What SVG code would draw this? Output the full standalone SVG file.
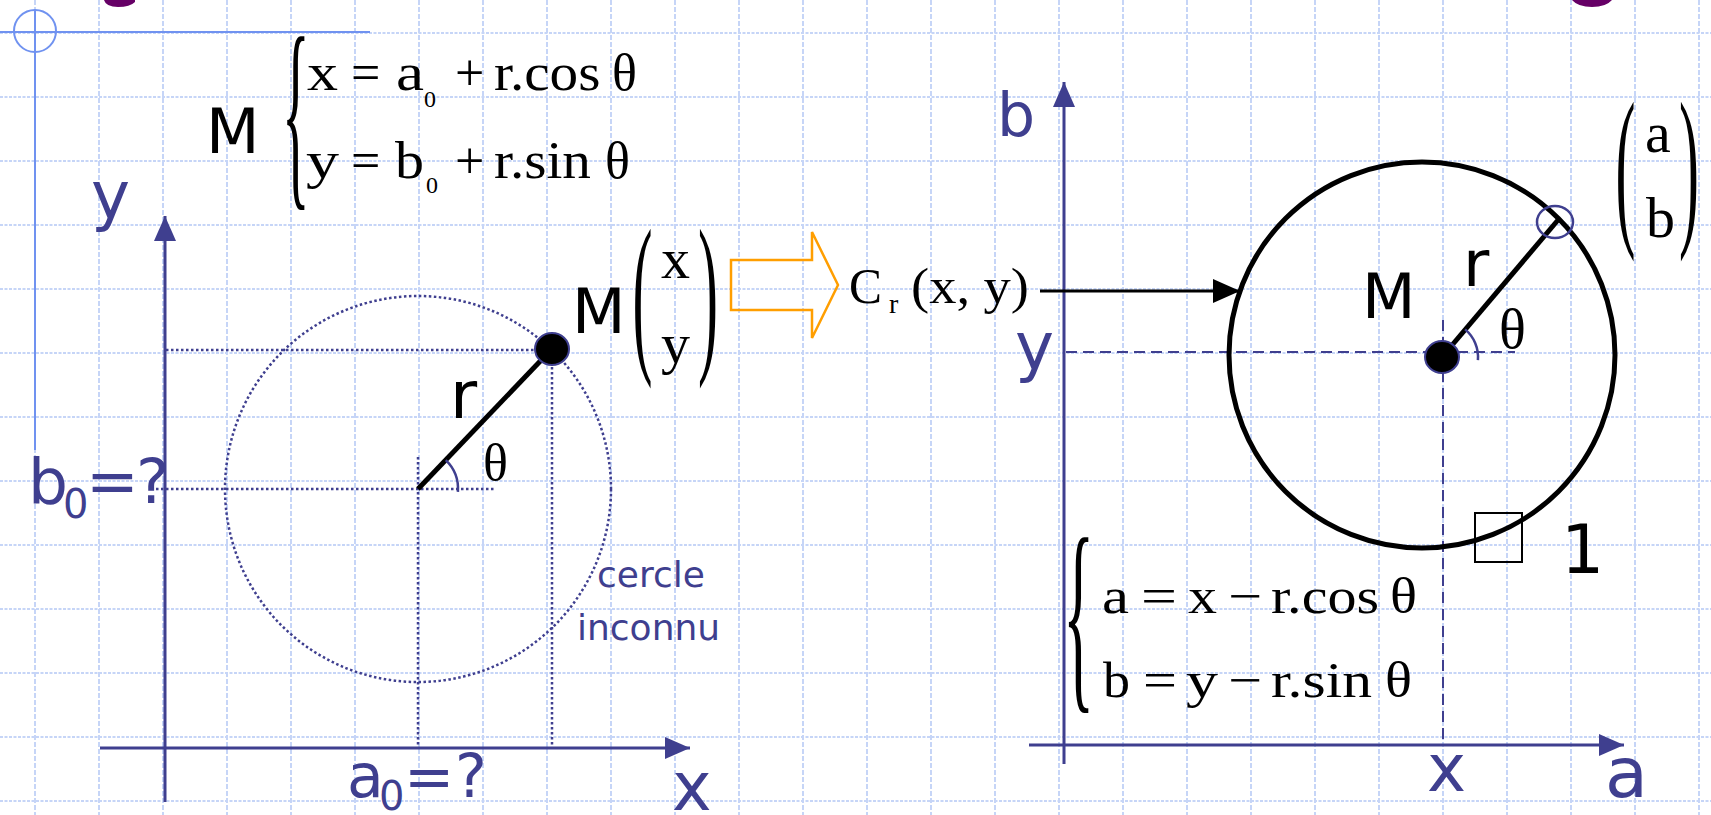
<svg xmlns="http://www.w3.org/2000/svg" width="1711" height="815" viewBox="0 0 1711 815">
<defs>
<style>
.grid{fill:none;stroke:#c6d5f7;stroke-width:2}
.gh{stroke-dasharray:3 1.5}
.gv{stroke-dasharray:5 2}
.ser{font-family:"Liberation Serif","Times New Roman",serif;fill:#000}
.san{font-family:"DejaVu Sans",Verdana,sans-serif}
.blue{fill:#3f3f8f}
.blk{fill:#000}
.axis{stroke:#3f3f8f;stroke-width:3;fill:none}
.dot{stroke:#3f3f8f;stroke-width:2.5;fill:none;stroke-dasharray:2.5 2.5}
.dash{stroke:#3f3f8f;stroke-width:2;fill:none;stroke-dasharray:11 6}
.thick{stroke:#000;stroke-width:5;fill:none}
.arc{stroke:#3f3f8f;stroke-width:2.5;fill:none}
</style>
<marker id="axArrow" markerUnits="userSpaceOnUse" markerWidth="26" markerHeight="22" refX="25" refY="11" orient="auto">
<path d="M0,0 L25,11 L0,22 Z" fill="#3f3f8f"/>
</marker>
<marker id="blkArrow" markerUnits="userSpaceOnUse" markerWidth="28" markerHeight="24" refX="27" refY="12" orient="auto">
<path d="M0,0 L27,12 L0,24 Z" fill="#000"/>
</marker>
</defs>
<rect width="1711" height="815" fill="#fff"/>
<g id="grid">
<path class="grid gh" d="M0,33H1711M0,97H1711M0,161H1711M0,225H1711M0,289H1711M0,353H1711M0,417H1711M0,481H1711M0,545H1711M0,609H1711M0,673H1711M0,737H1711M0,801H1711"/>
<path class="grid gv" d="M35,0V815M99,0V815M163,0V815M227,0V815M291,0V815M355,0V815M419,0V815M483,0V815M547,0V815M611,0V815M675,0V815M739,0V815M803,0V815M867,0V815M931,0V815M995,0V815M1059,0V815M1123,0V815M1187,0V815M1251,0V815M1315,0V815M1379,0V815M1443,0V815M1507,0V815M1571,0V815M1635,0V815M1699,0V815"/>
</g>
<g id="page-decor">
<path d="M0,32H370M35,10V450" stroke="#7092f0" stroke-width="2" fill="none"/>
<circle cx="35" cy="31" r="21" stroke="#7092f0" stroke-width="2" fill="none"/>
<path d="M104,0 Q106,7 118,7 Q130,7 135,2 L135,0 Z" fill="#660066"/>
<path d="M1572,0 Q1578,7 1592,7 Q1606,7 1612,0 Z" fill="#660066"/>
</g>
<g id="connectors">
<line class="axis" x1="165" y1="802" x2="165" y2="216" marker-end="url(#axArrow)"/>
<line class="axis" x1="100" y1="748" x2="690" y2="748" marker-end="url(#axArrow)"/>
<line class="axis" x1="1064" y1="764" x2="1064" y2="82" marker-end="url(#axArrow)"/>
<line class="axis" x1="1029" y1="745" x2="1624" y2="745" marker-end="url(#axArrow)"/>
<path class="dot" d="M166,350H540M156,489H494M418,457V748M552,362V748"/>
<path class="dash" d="M1066,352H1515M1443,320V745"/>
<line x1="1040" y1="291" x2="1240" y2="291" stroke="#000" stroke-width="3" marker-end="url(#blkArrow)"/>
<path d="M731,260 H812 V232 L838,285 L812,338 V310 H731 Z" fill="none" stroke="#ff9e00" stroke-width="2.5"/>
</g>
<g id="left-circle">
<circle class="dot" cx="418" cy="489" r="193"/>
<line class="thick" x1="418" y1="489" x2="548" y2="353"/>
<path class="arc" d="M445.8,460.2 A40,40 0 0 1 457.9,491.8"/>
<ellipse cx="552" cy="349" rx="17" ry="16" fill="#000" stroke="#3f3f8f" stroke-width="2"/>
</g>
<g id="right-circle">
<circle cx="1422" cy="355" r="193" fill="none" stroke="#000" stroke-width="5"/>
<line class="thick" x1="1442" y1="357" x2="1558" y2="220"/>
<path class="arc" d="M1465.1,329.4 A36,36 0 0 1 1477.9,360.1"/>
<ellipse cx="1442" cy="357" rx="17" ry="16" fill="#000" stroke="#3f3f8f" stroke-width="2"/>
<ellipse cx="1555" cy="222" rx="18" ry="16" fill="none" stroke="#3f3f8f" stroke-width="2.5"/>
<rect x="1475" y="513" width="47" height="49" fill="none" stroke="#000" stroke-width="2"/>
</g>
<g id="formula-M">
<text class="san blk" x="206" y="153" font-size="62">M</text>
<text class="ser" font-size="50" transform="translate(282,182) scale(1.15,4.18)">{</text>
<g class="ser" font-size="52">
<text x="307" y="90" textLength="31" lengthAdjust="spacingAndGlyphs">x</text>
<text x="351" y="90">=</text>
<text x="396" y="90" textLength="28" lengthAdjust="spacingAndGlyphs">a</text>
<text x="424" y="107" font-size="24">0</text>
<text x="455" y="90">+</text>
<text transform="translate(494,90) scale(1.1,1)">r.cos</text>
<text x="612" y="90">θ</text>
<text x="306" y="178" textLength="33" lengthAdjust="spacingAndGlyphs">y</text>
<text x="351" y="178">=</text>
<text x="395" y="178" textLength="29" lengthAdjust="spacingAndGlyphs">b</text>
<text x="426" y="193" font-size="24">0</text>
<text x="455" y="178">+</text>
<text transform="translate(494,178) scale(1.1,1)">r.sin</text>
<text x="605" y="178">θ</text>
</g>
</g>
<g id="left-labels">
<text class="san blue" x="91" y="218" font-size="66">y</text>
<text class="san blue" x="672" y="810" font-size="67">x</text>
<text class="san blue" x="28" y="503" font-size="63">b</text>
<text class="san blue" x="63" y="518" font-size="40">0</text>
<text class="san blue" x="86" y="503" font-size="63">=</text>
<text class="san blue" x="136" y="503" font-size="63">?</text>
<text class="san blue" x="347" y="797" font-size="60">a</text>
<text class="san blue" x="379" y="810" font-size="40">0</text>
<text class="san blue" x="404" y="797" font-size="60">=</text>
<text class="san blue" x="455" y="797" font-size="60">?</text>
<text class="san blue" x="597" y="587" font-size="36">cercle</text>
<text class="san blue" x="577" y="640" font-size="36">inconnu</text>
<text class="san blk" x="450" y="418" font-size="66">r</text>
<text class="ser" x="483" y="480" font-size="52">θ</text>
</g>
<g id="point-M">
<text class="san blk" x="572" y="333" font-size="62">M</text>
<text class="ser" font-size="50" transform="translate(632.5,350.8) scale(1.2,3.54)">(</text>
<text class="ser" font-size="50" transform="translate(698,350.8) scale(1.2,3.54)">)</text>
<text class="ser" x="661" y="278" font-size="58">x</text>
<text class="ser" x="661" y="363" font-size="58">y</text>
</g>
<g id="hough-Cr">
<text class="ser" x="849" y="303" font-size="50" textLength="33" lengthAdjust="spacingAndGlyphs">C</text>
<text class="ser" x="889" y="313" font-size="28">r</text>
<text class="ser" x="911" y="303" font-size="50" textLength="118" lengthAdjust="spacingAndGlyphs">(x, y)</text>
</g>
<g id="right-labels">
<text class="san blue" x="997" y="136" font-size="60">b</text>
<text class="san blue" x="1015" y="369" font-size="66">y</text>
<text class="san blue" x="1427" y="791" font-size="66">x</text>
<text class="san blue" x="1605" y="797" font-size="70">a</text>
<text class="san blk" x="1362" y="318" font-size="62">M</text>
<text class="san blk" x="1463" y="286" font-size="64">r</text>
<text class="ser" x="1499" y="348" font-size="56">θ</text>
<text class="san blk" x="1561" y="573" font-size="68">1</text>
</g>
<g id="point-ab">
<text class="ser" font-size="50" transform="translate(1615.5,223.8) scale(1.2,3.51)">(</text>
<text class="ser" font-size="50" transform="translate(1679,223.8) scale(1.2,3.51)">)</text>
<text class="ser" x="1645" y="152" font-size="58">a</text>
<text class="ser" x="1646" y="237" font-size="58">b</text>
</g>
<g id="formula-ab">
<text class="ser" font-size="50" transform="translate(1063,684.5) scale(1.3,4.25)">{</text>
<g class="ser" font-size="50">
<text x="1102" y="613" textLength="27" lengthAdjust="spacingAndGlyphs">a</text>
<text x="1141" y="613" textLength="36" lengthAdjust="spacingAndGlyphs">=</text>
<text x="1188" y="613" textLength="29" lengthAdjust="spacingAndGlyphs">x</text>
<text x="1228" y="613" textLength="34" lengthAdjust="spacingAndGlyphs">−</text>
<text x="1271" y="613" textLength="108" lengthAdjust="spacingAndGlyphs">r.cos</text>
<text x="1390" y="613" textLength="27" lengthAdjust="spacingAndGlyphs">θ</text>
<text x="1103" y="697" textLength="27" lengthAdjust="spacingAndGlyphs">b</text>
<text x="1143" y="697" textLength="34" lengthAdjust="spacingAndGlyphs">=</text>
<text x="1186" y="697" textLength="32" lengthAdjust="spacingAndGlyphs">y</text>
<text x="1228" y="697" textLength="34" lengthAdjust="spacingAndGlyphs">−</text>
<text x="1271" y="697" textLength="101" lengthAdjust="spacingAndGlyphs">r.sin</text>
<text x="1385" y="697" textLength="27" lengthAdjust="spacingAndGlyphs">θ</text>
</g>
</g>
</svg>
